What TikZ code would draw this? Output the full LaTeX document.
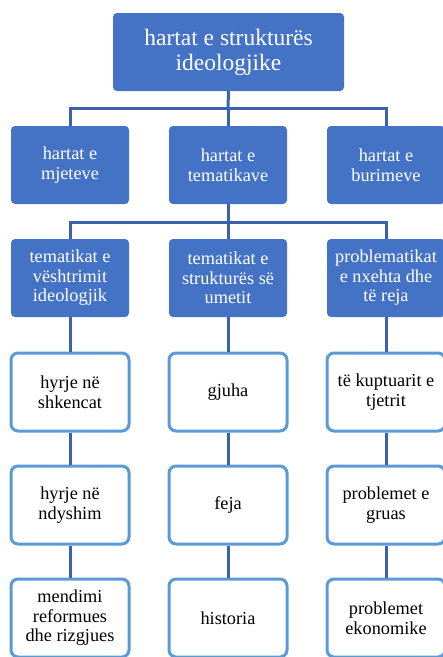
\documentclass[tikz,border=0pt]{standalone}
\usepackage{fontspec}
\setmainfont{Liberation Serif}
\definecolor{boxblue}{HTML}{4472C4}
\definecolor{edgeblue}{HTML}{5B9BD5}
\definecolor{linkblue}{HTML}{3D62AD}
\begin{document}
\begin{tikzpicture}[x=1pt,y=1pt,
  bluebox/.style={fill=boxblue, draw=none, rounded corners=4pt, text=white,
    minimum width=118pt, minimum height=78pt, inner sep=1pt, align=center,
    font=\fontsize{18.3}{19.5}\selectfont},
  topbox/.style={bluebox, minimum width=231pt,
    font=\fontsize{23.5}{25}\selectfont},
  whitebox/.style={fill=white, draw=edgeblue, line width=3pt, rounded corners=7pt,
    text=black, minimum width=118pt, minimum height=78pt, inner sep=1pt, align=center,
    font=\fontsize{18.3}{19.5}\selectfont},
  conn/.style={draw=linkblue, line width=3pt}]
\useasboundingbox (0,0) rectangle (443,-657);
% top
\node[topbox] (top) at (228.5,-52) {hartat e strukturës\\ideologjike};
% level 2
\node[bluebox] (a2) at (70,-165) {hartat e\\mjeteve};
\node[bluebox] (b2) at (228,-165) {hartat e\\tematikave};
\node[bluebox] (c2) at (386,-165) {hartat e\\burimeve};
% level 3
\node[bluebox] (a3) at (70,-278) {tematikat e\\vështrimit\\ideologjik};
\node[bluebox] (b3) at (228,-278) {tematikat e\\strukturës së\\umetit};
\node[bluebox] (c3) at (386,-278) {problematikat\\e nxehta dhe\\të reja};
% level 4
\node[whitebox] (a4) at (70,-392) {hyrje në\\shkencat};
\node[whitebox] (b4) at (228,-392) {gjuha};
\node[whitebox] (c4) at (386,-392) {të kuptuarit e\\tjetrit};
% level 5
\node[whitebox] (a5) at (70,-505) {hyrje në\\ndyshim};
\node[whitebox] (b5) at (228,-505) {feja};
\node[whitebox] (c5) at (386,-505) {problemet e\\gruas};
% level 6
\node[whitebox] (a6) at (70,-618) {mendimi\\reformues\\dhe rizgjues};
\node[whitebox] (b6) at (228,-618) {historia};
\node[whitebox] (c6) at (386,-618) {problemet\\ekonomike};
% junctions
\coordinate (j1) at (228,-108);
\coordinate (j2) at (228,-222);
% connectors
\draw[conn] (top.south) -- (j1);
\draw[conn] (j1) -| (a2.north);
\draw[conn] (j1) -- (b2.north);
\draw[conn] (j1) -| (c2.north);
\draw[conn] (b2.south) -- (j2);
\draw[conn] (j2) -| (a3.north);
\draw[conn] (j2) -- (b3.north);
\draw[conn] (j2) -| (c3.north);
\foreach \c in {a,b,c}{
  \draw[conn] (\c3.south) -- (\c4.north);
  \draw[conn] (\c4.south) -- (\c5.north);
  \draw[conn] (\c5.south) -- (\c6.north);
}
\end{tikzpicture}
\end{document}
